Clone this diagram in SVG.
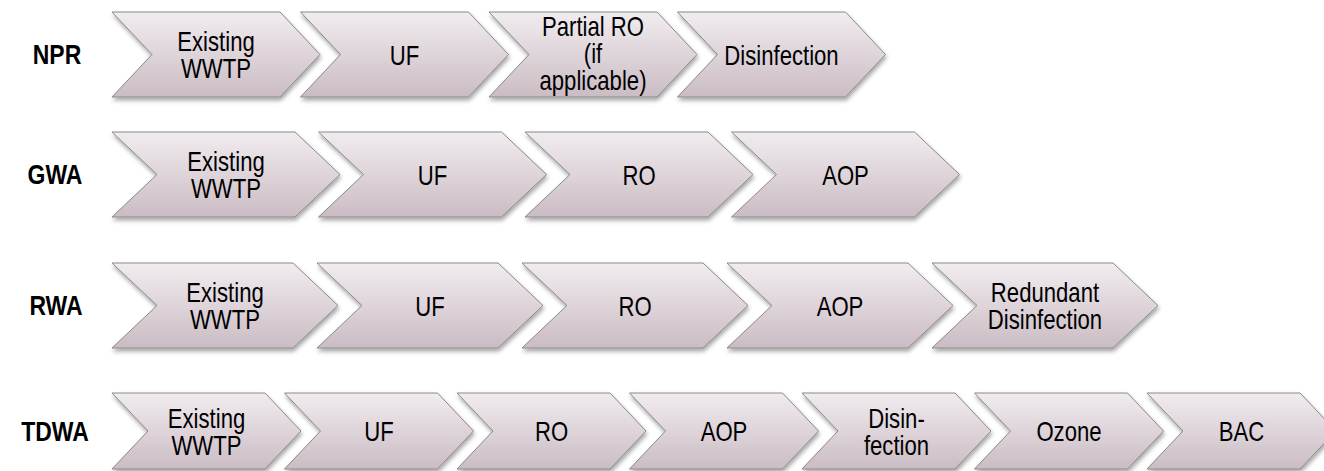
<svg xmlns="http://www.w3.org/2000/svg" width="1324" height="471" viewBox="0 0 1324 471">
  <defs>
    <linearGradient id="chevFill" x1="0" y1="0" x2="0" y2="1">
      <stop offset="0" stop-color="#F1ECF0"/>
      <stop offset="1" stop-color="#CBBCC4"/>
    </linearGradient>
    <filter id="shadow" x="-10%" y="-20%" width="120%" height="150%">
      <feDropShadow dx="1" dy="3" stdDeviation="2" flood-color="#000" flood-opacity="0.35"/>
    </filter>
  </defs>
  <style>
    .chev { fill: url(#chevFill); stroke: #8A8A8A; stroke-width: 1; filter: url(#shadow); }
    .lbl { font-family: "Liberation Sans", Arial, sans-serif; font-size: 27px; fill: #000; text-anchor: middle; }
    .row { font-family: "Liberation Sans", Arial, sans-serif; font-size: 28px; font-weight: bold; fill: #000; text-anchor: middle; }
  </style>
  <rect width="1324" height="471" fill="#FFFFFF"/>

  <!-- Row labels -->
  <g id="label-npr"><text class="row" transform="translate(57,64) scale(0.82,1)">NPR</text></g>
  <g id="label-gwa"><text class="row" transform="translate(55,184) scale(0.82,1)">GWA</text></g>
  <g id="label-rwa"><text class="row" transform="translate(56,315) scale(0.82,1)">RWA</text></g>
  <g id="label-tdwa"><text class="row" transform="translate(55,441) scale(0.82,1)">TDWA</text></g>

  <!-- Row 1: NPR -->
  <g id="npr-existing-wwtp">
    <polygon class="chev" points="112,12 280,12 320,54.5 280,97 112,97 152,54.5"/>
    <text class="lbl" transform="translate(216,51) scale(0.82,1)"><tspan x="0">Existing</tspan><tspan x="0" dy="27">WWTP</tspan></text>
  </g>
  <g id="npr-uf">
    <polygon class="chev" points="300.5,12 468.5,12 508.5,54.5 468.5,97 300.5,97 340.5,54.5"/>
    <text class="lbl" transform="translate(404.5,64.5) scale(0.82,1)">UF</text>
  </g>
  <g id="npr-partial-ro">
    <polygon class="chev" points="489,12 657,12 697,54.5 657,97 489,97 529,54.5"/>
    <text class="lbl" transform="translate(593,36) scale(0.82,1)"><tspan x="0">Partial RO</tspan><tspan x="0" dy="27">(if</tspan><tspan x="0" dy="27">applicable)</tspan></text>
  </g>
  <g id="npr-disinfection">
    <polygon class="chev" points="677.5,12 845.5,12 885.5,54.5 845.5,97 677.5,97 717.5,54.5"/>
    <text class="lbl" transform="translate(781.5,64.5) scale(0.82,1)">Disinfection</text>
  </g>

  <!-- Row 2: GWA -->
  <g id="gwa-existing-wwtp">
    <polygon class="chev" points="112,132 295,132 340,174.5 295,217 112,217 157,174.5"/>
    <text class="lbl" transform="translate(226,171) scale(0.82,1)"><tspan x="0">Existing</tspan><tspan x="0" dy="27">WWTP</tspan></text>
  </g>
  <g id="gwa-uf">
    <polygon class="chev" points="318.5,132 501.5,132 546.5,174.5 501.5,217 318.5,217 363.5,174.5"/>
    <text class="lbl" transform="translate(432.5,184.5) scale(0.82,1)">UF</text>
  </g>
  <g id="gwa-ro">
    <polygon class="chev" points="525,132 708,132 753,174.5 708,217 525,217 570,174.5"/>
    <text class="lbl" transform="translate(639,184.5) scale(0.82,1)">RO</text>
  </g>
  <g id="gwa-aop">
    <polygon class="chev" points="731.5,132 914.5,132 959.5,174.5 914.5,217 731.5,217 776.5,174.5"/>
    <text class="lbl" transform="translate(845.5,184.5) scale(0.82,1)">AOP</text>
  </g>

  <!-- Row 3: RWA -->
  <g id="rwa-existing-wwtp">
    <polygon class="chev" points="112,263 293,263 338,305.5 293,348 112,348 157,305.5"/>
    <text class="lbl" transform="translate(225,302) scale(0.82,1)"><tspan x="0">Existing</tspan><tspan x="0" dy="27">WWTP</tspan></text>
  </g>
  <g id="rwa-uf">
    <polygon class="chev" points="317,263 498,263 543,305.5 498,348 317,348 362,305.5"/>
    <text class="lbl" transform="translate(430,315.5) scale(0.82,1)">UF</text>
  </g>
  <g id="rwa-ro">
    <polygon class="chev" points="522,263 703,263 748,305.5 703,348 522,348 567,305.5"/>
    <text class="lbl" transform="translate(635,315.5) scale(0.82,1)">RO</text>
  </g>
  <g id="rwa-aop">
    <polygon class="chev" points="727,263 908,263 953,305.5 908,348 727,348 772,305.5"/>
    <text class="lbl" transform="translate(840,315.5) scale(0.82,1)">AOP</text>
  </g>
  <g id="rwa-redundant-disinfection">
    <polygon class="chev" points="932,263 1113,263 1158,305.5 1113,348 932,348 977,305.5"/>
    <text class="lbl" transform="translate(1045,302) scale(0.82,1)"><tspan x="0">Redundant</tspan><tspan x="0" dy="27">Disinfection</tspan></text>
  </g>

  <!-- Row 4: TDWA -->
  <g id="tdwa-existing-wwtp">
    <polygon class="chev" points="112,393 265,393 301,431 265,469 112,469 148,431"/>
    <text class="lbl" transform="translate(206.5,428) scale(0.82,1)"><tspan x="0">Existing</tspan><tspan x="0" dy="27">WWTP</tspan></text>
  </g>
  <g id="tdwa-uf">
    <polygon class="chev" points="284.5,393 437.5,393 473.5,431 437.5,469 284.5,469 320.5,431"/>
    <text class="lbl" transform="translate(379,441) scale(0.82,1)">UF</text>
  </g>
  <g id="tdwa-ro">
    <polygon class="chev" points="457,393 610,393 646,431 610,469 457,469 493,431"/>
    <text class="lbl" transform="translate(551.5,441) scale(0.82,1)">RO</text>
  </g>
  <g id="tdwa-aop">
    <polygon class="chev" points="629.5,393 782.5,393 818.5,431 782.5,469 629.5,469 665.5,431"/>
    <text class="lbl" transform="translate(724,441) scale(0.82,1)">AOP</text>
  </g>
  <g id="tdwa-disinfection">
    <polygon class="chev" points="802,393 955,393 991,431 955,469 802,469 838,431"/>
    <text class="lbl" transform="translate(896.5,428) scale(0.82,1)"><tspan x="0">Disin-</tspan><tspan x="0" dy="27">fection</tspan></text>
  </g>
  <g id="tdwa-ozone">
    <polygon class="chev" points="974.5,393 1127.5,393 1163.5,431 1127.5,469 974.5,469 1010.5,431"/>
    <text class="lbl" transform="translate(1069,441) scale(0.82,1)">Ozone</text>
  </g>
  <g id="tdwa-bac">
    <polygon class="chev" points="1147,393 1300,393 1336,431 1300,469 1147,469 1183,431"/>
    <text class="lbl" transform="translate(1241.5,441) scale(0.82,1)">BAC</text>
  </g>

  <g id="connectors"></g>
</svg>
